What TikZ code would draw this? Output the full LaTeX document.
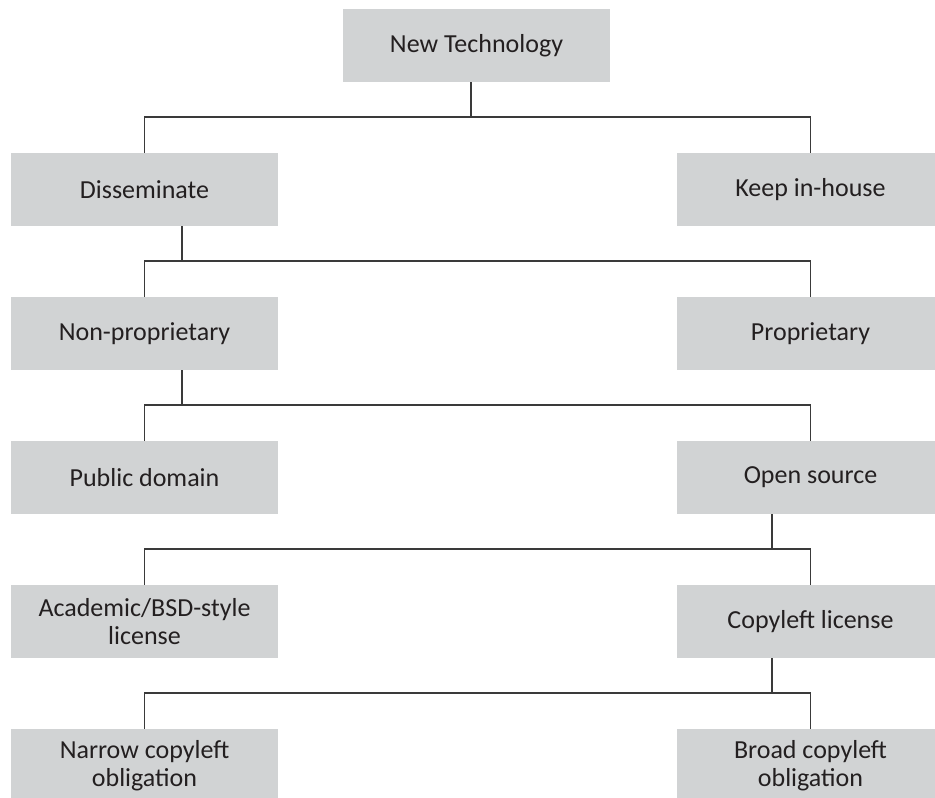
\documentclass[tikz,border=0pt]{standalone}
\usepackage{fontspec}
\setmainfont{Carlito}
\definecolor{boxgray}{HTML}{D1D3D4}
\definecolor{linegray}{HTML}{3A3A3A}
\definecolor{textgray}{HTML}{231F20}

\begin{document}
\begin{tikzpicture}[x=1pt,y=-1pt,
  box/.style={fill=boxgray, text=textgray, minimum width=267pt, minimum height=73pt,
    inner sep=0pt, align=center, font=\fontsize{26}{28}\selectfont},
  link/.style={draw=linegray, line width=1.5pt}]
\useasboundingbox (0,0) rectangle (935,798);

\node[box] (tech) at (476.5,45.5) {New Technology};
\node[box] (dissem) at (144.5,189.5) {Disseminate};
\node[box] (keep) at (810.5,189.5) {Keep in-house};
\node[box] (nonprop) at (144.5,333.5) {Non-proprietary};
\node[box] (prop) at (810.5,333.5) {Proprietary};
\node[box] (public) at (144.5,477.5) {Public domain};
\node[box] (open) at (810.5,477.5) {Open source};
\node[box] (academic) at (144.5,621.5) {Academic/BSD-style\\license};
\node[box] (copyleft) at (810.5,621.5) {Copyleft license};
\node[box] (narrow) at (144.5,765.5) {Narrow copyleft\\obligation};
\node[box] (broad) at (810.5,765.5) {Broad copyleft\\obligation};

\coordinate (bus1) at (471,117);
\coordinate (bus2) at (182,261);
\coordinate (bus3) at (182,405);
\coordinate (bus4) at (772,549);
\coordinate (bus5) at (772,693);

\draw[link] (tech.south -| bus1) -- (bus1) -| (dissem.north);
\draw[link] (bus1) -| (keep.north);
\draw[link] (dissem.south -| bus2) -- (bus2) -| (nonprop.north);
\draw[link] (bus2) -| (prop.north);
\draw[link] (nonprop.south -| bus3) -- (bus3) -| (public.north);
\draw[link] (bus3) -| (open.north);
\draw[link] (open.south -| bus4) -- (bus4) -| (academic.north);
\draw[link] (bus4) -| (copyleft.north);
\draw[link] (copyleft.south -| bus5) -- (bus5) -| (narrow.north);
\draw[link] (bus5) -| (broad.north);
\end{tikzpicture}
\end{document}
